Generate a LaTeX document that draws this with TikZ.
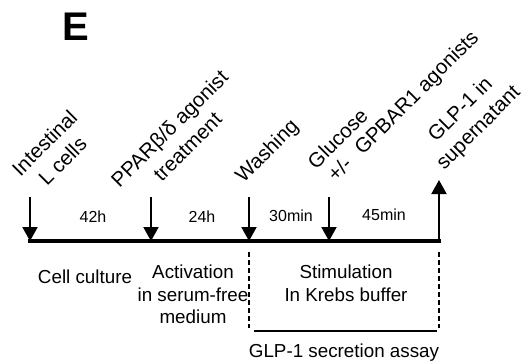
\documentclass[tikz,border=0pt]{standalone}
\usepackage{fontspec}
\setmainfont{Liberation Sans}
\usetikzlibrary{arrows.meta}
\begin{document}
\begin{tikzpicture}[x=1pt,y=-1pt,
  lbl/.style={font=\fontsize{18.8}{22.5}\selectfont, inner sep=0pt, align=center},
  dur/.style={font=\fontsize{16}{19}\selectfont, inner sep=0pt},
  rlbl/.style={font=\fontsize{20.5}{25.5}\selectfont, inner sep=0pt, align=center,
    rotate=45, text depth=0pt, anchor=south},
  tickarrow/.style={line width=2pt, -{Triangle[width=15pt,length=14pt]}},
  axisline/.style={line width=4.5pt, line cap=rect},
  assayline/.style={line width=1.5pt, dash pattern=on 5pt off 3pt},
  baseline/.style={line width=1.5pt}
]
\useasboundingbox (0,0) rectangle (523,362);
% panel letter
\node[font=\fontsize{40}{40}\selectfont\bfseries, inner sep=0pt] (E) at (76,27) {E};
% timeline points
\coordinate (tA) at (30,241);
\coordinate (tB) at (151,241);
\coordinate (tC) at (249,241);
\coordinate (tD) at (329,241);
\coordinate (tE) at (439,241);
\coordinate (sA) at (30,197);
\coordinate (sB) at (151,197);
\coordinate (sC) at (249,197);
\coordinate (sD) at (329,197);
\coordinate (sE) at (439,180);
\draw[axisline] (tA) -- (tE);
\draw[tickarrow] (sA) -- (tA);
\draw[tickarrow] (sB) -- (tB);
\draw[tickarrow] (sC) -- (tC);
\draw[tickarrow] (sD) -- (tD);
\draw[tickarrow] (tE) -- (sE);
% rotated labels (anchored at the baseline of their last line)
\node[rlbl] (l1) at (67.8,166.2) {Intestinal\\L cells};
\node[rlbl] (l2) at (192.7,151.7) {PPARβ/δ agonist\\treatment};
\node[rlbl] (l3) at (271.7,155.9) {Washing};
\node[rlbl, align=left, anchor=south west, font=\fontsize{20.5}{23}\selectfont] (l4) at (332.3,186.7)
  {Glucose\\\hspace*{5pt}+/-\hspace{13.6pt}GPBAR1 agonists};
\node[rlbl] (l5) at (482.9,132.2) {GLP-1 in\\supernatant};
% durations
\node[dur] (d1) at (93,217) {42h};
\node[dur] (d2) at (202,217) {24h};
\node[dur] (d3) at (291,216) {30min};
\node[dur] (d4) at (384,215) {45min};
% phase labels
\node[lbl] (p1) at (85,277) {Cell culture};
\node[lbl, anchor=north] (p2) at (193,265) {Activation\\in serum-free\\medium};
\node[lbl, anchor=north] (p3) at (346,265) {Stimulation\\In Krebs buffer};
\node[lbl] (p4) at (344,353) {GLP-1 secretion assay};
% assay bracket
\coordinate (dL1) at (249,252);
\coordinate (dL2) at (249,328);
\coordinate (dR1) at (439,252);
\coordinate (dR2) at (439,328);
\coordinate (bL) at (254,331);
\coordinate (bR) at (437,331);
\draw[assayline] (dL1) -- (dL2);
\draw[assayline] (dR1) -- (dR2);
\draw[baseline] (bL) -- (bR);
\end{tikzpicture}
\end{document}
